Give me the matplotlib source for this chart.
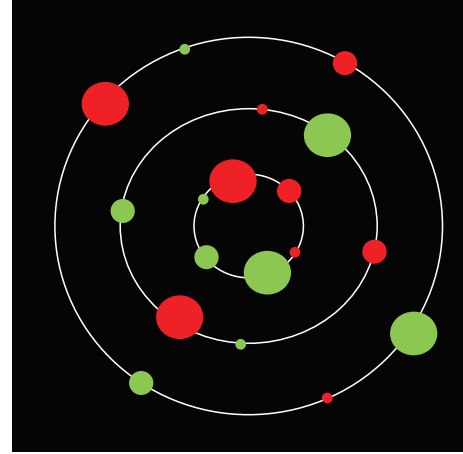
import matplotlib
matplotlib.use("Agg")
import matplotlib.pyplot as plt
from matplotlib.patches import Ellipse

# orbit half-widths / half-heights (data units)
ORBIT_RX = [54.7, 128.5, 193.8]
ORBIT_RY = [51.8, 117.3, 188.7]

# planets: centre x, centre y, size class, colour class
PLANET_X = [-15.7, 40.5, -45.4, -42.2, 18.7, 46.3,
            13.6, 78.8, 125.8, -8.0, -69.0, -126.0,
            -64.0, 96.3, -143.4, 165.0, 78.6, -107.5]
PLANET_Y = [44.8, 35.0, 26.7, -31.2, -46.7, -26.3,
            116.7, 90.8, -25.7, -118.3, -91.2, 15.0,
            176.7, 162.8, 122.2, -107.5, -172.0, -157.0]
PLANET_SIZE = ["big", "medium", "small", "medium", "big", "small",
               "small", "big", "medium", "small", "big", "medium",
               "small", "medium", "big", "big", "small", "medium"]
PLANET_KIND = ["red", "red", "green", "green", "green", "red",
               "red", "green", "red", "green", "red", "green",
               "green", "red", "red", "green", "red", "green"]

SIZE_WH = {"big": (47.3, 43.7), "medium": (24.3, 24.0), "small": (10.7, 10.7)}
COLORS = {"red": "#ee2226", "green": "#8cc752"}
BG = "#050505"

W, H = 463, 454
fig = plt.figure(figsize=(W / 100, H / 100), dpi=100, facecolor="white")
ax = fig.add_axes([12 / W, 2 / H, 451 / W, 452 / H])
ax.set_facecolor(BG)
ax.set_xlim(-236.7, 214.3)
ax.set_ylim(-226, 226)
ax.set_axis_off()
ax.add_patch(plt.Rectangle((-236.7, -226), 451, 452, color=BG, zorder=0))

for rx, ry in zip(ORBIT_RX, ORBIT_RY):
    ax.add_patch(Ellipse((0, 0), 2 * rx, 2 * ry, fill=False,
                         edgecolor="white", linewidth=1.1, zorder=1))

for x, y, s, k in zip(PLANET_X, PLANET_Y, PLANET_SIZE, PLANET_KIND):
    w, h = SIZE_WH[s]
    ax.add_patch(Ellipse((x, y), w, h, facecolor=COLORS[k],
                         edgecolor="none", zorder=2))

fig.savefig("out.png", dpi=100, facecolor="white")
